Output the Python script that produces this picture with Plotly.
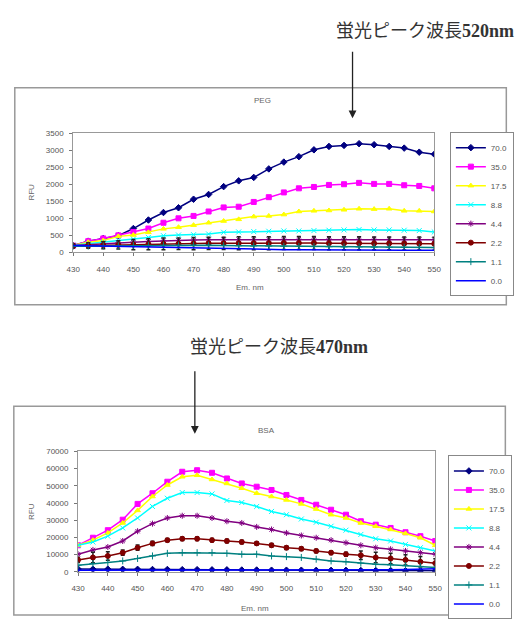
import plotly.graph_objects as go

W, H = 525, 628

wavelength = [430, 435, 440, 445, 450, 455, 460, 465, 470, 475, 480, 485, 490,
              495, 500, 505, 510, 515, 520, 525, 530, 535, 540, 545, 550]
conc_labels = ["70.0", "35.0", "17.5", "8.8", "4.4", "2.2", "1.1", "0.0"]
x_ticks = [430, 440, 450, 460, 470, 480, 490, 500, 510, 520, 530, 540, 550]

# ---- top chart (PEG) ----
top_70 = [200, 330, 410, 490, 700, 950, 1170, 1310, 1560, 1700, 1930, 2100, 2200,
          2450, 2650, 2810, 3010, 3110, 3140, 3190, 3160, 3110, 3060, 2940, 2880]
top_35 = [200, 330, 410, 500, 600, 700, 870, 1000, 1070, 1200, 1320, 1340, 1480,
          1620, 1760, 1880, 1920, 1980, 2000, 2040, 2010, 2010, 1970, 1950, 1880]
top_17 = [210, 300, 350, 470, 510, 590, 690, 740, 800, 870, 920, 970, 1050,
          1070, 1110, 1200, 1220, 1230, 1250, 1280, 1270, 1280, 1220, 1220, 1200]
top_88 = [210, 250, 300, 350, 390, 440, 490, 510, 520, 540, 590, 600, 610,
          620, 630, 630, 640, 650, 660, 670, 660, 660, 650, 640, 600]
top_44 = [200, 230, 260, 280, 300, 320, 340, 350, 360, 370, 370, 375, 380,
          380, 385, 385, 390, 390, 390, 385, 385, 380, 380, 375, 370]
top_22 = [190, 200, 210, 220, 230, 240, 250, 255, 260, 265, 265, 270, 270,
          270, 275, 275, 275, 270, 270, 270, 265, 265, 260, 260, 255]
top_11 = [180, 185, 190, 195, 200, 205, 210, 210, 210, 210, 200, 195, 190,
          185, 180, 175, 170, 165, 160, 160, 155, 150, 150, 145, 140]
top_00 = [200, 190, 180, 170, 160, 150, 140, 130, 120, 110, 100, 95, 90,
          85, 80, 75, 70, 65, 65, 60, 60, 60, 60, 60, 60]
top_err_22 = [60, 80, 100, 120, 150, 160, 170, 170, 180, 180, 180, 190, 190,
              190, 190, 190, 190, 190, 190, 190, 190, 190, 190, 190, 190]

# ---- bottom chart (BSA) ----
bot_70 = [1600, 1500, 1500, 1400, 1400, 1300, 1300, 1200, 1200, 1100, 1100, 1000, 1000,
          900, 900, 900, 800, 800, 800, 700, 700, 700, 600, 600, 600]
bot_35 = [15400, 19800, 24200, 30300, 39500, 45700, 52400, 58200, 59100, 57600, 54300, 51400, 49500,
          47600, 44700, 41800, 39000, 36100, 33200, 29400, 27400, 25500, 23000, 20700, 17900]
bot_17 = [15400, 18400, 22600, 28400, 35700, 43800, 50500, 55300, 56200, 53700, 51400, 48600, 45700,
          43800, 41800, 39500, 36500, 33200, 31300, 28400, 26500, 24600, 22300, 19800, 15400]
bot_88 = [15400, 17300, 20700, 25500, 31300, 38000, 42800, 46100, 46100, 45300, 41500, 40300, 38000,
          35100, 33200, 30700, 28800, 26500, 24200, 21700, 19200, 17900, 15900, 14000, 12100]
bot_44 = [10200, 12700, 14400, 17900, 23600, 28000, 31300, 32600, 32600, 31300, 29400, 28400, 26100,
          24600, 22600, 21100, 19800, 18400, 16900, 15400, 14000, 13100, 12100, 11100, 10200]
bot_22 = [6900, 8300, 9200, 11100, 14000, 16500, 18400, 19200, 19200, 18400, 17900, 17300, 16500,
          15400, 14000, 13400, 12100, 11100, 10200, 9600, 8300, 7700, 6900, 5800, 5000]
bot_11 = [3800, 4800, 5400, 6300, 7700, 9200, 10700, 11100, 11100, 11100, 10700, 10200, 10200,
          9200, 8800, 8300, 7300, 6300, 5800, 5000, 4400, 4000, 3500, 3100, 2500]
bot_00 = [800, 800, 850, 850, 800, 800, 850, 800, 800, 800, 850, 800, 800,
          800, 850, 800, 800, 850, 900, 900, 1000, 1100, 1300, 1500, 1800]
bot_err_22 = [1500, 3000, 2500, 1500, 1500, 1200, 1000, 1000, 1000, 1000, 1000, 1000, 1000,
              1000, 1000, 1000, 1000, 1000, 1200, 2500, 3000, 3000, 3000, 3000, 2500]

top_series = [top_70, top_35, top_17, top_88, top_44, top_22, top_11, top_00]
bot_series = [bot_70, bot_35, bot_17, bot_88, bot_44, bot_22, bot_11, bot_00]

colors = ["#000080", "#FF00FF", "#FFFF00", "#00FFFF", "#800080", "#800000", "#008080", "#0000FF"]
symbols = ["diamond", "square", "triangle-up", "x-thin-open", "asterisk-open", "circle", "cross-thin-open", None]


def px(x):
    return x / W


def py(y):
    return 1 - y / H


fig = go.Figure()

for i, (lab, c, s) in enumerate(zip(conc_labels, colors, symbols)):
    for series, xa, ya, leg, err in [
            (top_series[i], "x", "y", "legend", top_err_22),
            (bot_series[i], "x2", "y2", "legend2", bot_err_22)]:
        mode = "lines+markers" if s else "lines"
        tr = dict(
            x=wavelength, y=series, name=lab, mode=mode,
            line=dict(color=c, width=1.5), xaxis=xa, yaxis=ya, legend=leg,
        )
        if s:
            tr["marker"] = dict(symbol=s, size=5, color=c, line=dict(color=c, width=1))
        if lab == "2.2":
            tr["error_y"] = dict(type="data", array=err, visible=True,
                                 color="#222222", thickness=1.5, width=2)
        fig.add_trace(go.Scatter(**tr))

tick_font = dict(family="Liberation Sans", size=8, color="#555555")
axis_common = dict(showgrid=False, zeroline=False, showline=True, mirror=True,
                   linecolor="#999999", linewidth=1, ticks="outside", ticklen=3,
                   tickcolor="#777777", tickfont=tick_font, tickformat="d")

legend_common = dict(xanchor="left", yanchor="top",
                     bordercolor="#888888", borderwidth=1, bgcolor="white",
                     font=dict(family="Liberation Sans", size=8, color="#555555"),
                     itemwidth=30, tracegroupgap=0)

fig.update_layout(
    width=W, height=H, autosize=False,
    margin=dict(l=0, r=0, t=0, b=0),
    paper_bgcolor="white", plot_bgcolor="white",
    showlegend=True,
    xaxis=dict(domain=[px(68), px(439)], range=[430, 550], tickvals=x_ticks,
               anchor="y", ticklabelstandoff=6, **axis_common),
    yaxis=dict(domain=[py(252), py(131)], range=[0, 3500], dtick=500,
               anchor="x", ticklabelstandoff=4, **axis_common),
    xaxis2=dict(domain=[px(73), px(440)], range=[430, 550], tickvals=x_ticks,
                anchor="y2", ticklabelstandoff=6, **axis_common),
    yaxis2=dict(domain=[py(576), py(454)], range=[0, 70000], dtick=10000,
                anchor="x2", ticklabelstandoff=4, **axis_common),
    legend=dict(x=px(455), y=py(130), **legend_common),
    legend2=dict(x=px(453), y=py(458), **legend_common),
)

# outer chart frames
fig.add_shape(type="rect", xref="paper", yref="paper", x0=px(8), x1=px(513),
              y0=py(305), y1=py(85), line=dict(color="#999999", width=1.5))
fig.add_shape(type="rect", xref="paper", yref="paper", x0=px(7), x1=px(512),
              y0=py(620), y1=py(408), line=dict(color="#999999", width=1.5))

ann_font_small = dict(family="Liberation Sans", size=8, color="#666666")
big_font = dict(family="Liberation Serif, Noto Sans CJK JP", size=18, color="#333333")

annotations = [
    dict(text="PEG", x=px(263), y=py(98), font=ann_font_small),
    dict(text="BSA", x=px(267), y=py(433), font=ann_font_small),
    dict(text="RFU", x=px(25), y=py(191), font=ann_font_small, textangle=-90),
    dict(text="RFU", x=px(25), y=py(515), font=ann_font_small, textangle=-90),
    dict(text="Em. nm", x=px(250), y=py(288), font=ann_font_small),
    dict(text="Em. nm", x=px(255), y=py(613), font=ann_font_small),
    dict(text="蛍光ピーク波長<b>520nm</b>", x=px(429), y=py(27), font=big_font),
    dict(text="蛍光ピーク波長<b>470nm</b>", x=px(279), y=py(348), font=big_font),
]
for a in annotations:
    fig.add_annotation(xref="paper", yref="paper", showarrow=False,
                       xanchor="center", yanchor="middle", **a)

# arrows
fig.add_annotation(xref="paper", yref="paper", axref="pixel", ayref="pixel",
                   x=px(355), y=py(116), ax=0, ay=-68, showarrow=True,
                   arrowhead=2, arrowsize=1.2, arrowwidth=1.3, arrowcolor="#222222", text="")
fig.add_annotation(xref="paper", yref="paper", axref="pixel", ayref="pixel",
                   x=px(193), y=py(436), ax=0, ay=-64, showarrow=True,
                   arrowhead=2, arrowsize=1.2, arrowwidth=1.3, arrowcolor="#222222", text="")

fig.write_html("out.html")
